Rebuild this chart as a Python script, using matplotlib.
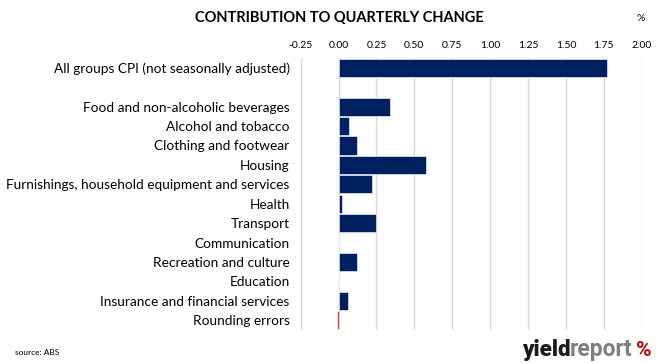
import matplotlib.pyplot as plt
import numpy as np

# contributions to quarterly CPI change (%)
categories = [
    "All groups CPI (not seasonally adjusted)",
    "",
    "Food and non-alcoholic beverages",
    "Alcohol and tobacco",
    "Clothing and footwear",
    "Housing",
    "Furnishings, household equipment and services",
    "Health",
    "Transport",
    "Communication",
    "Recreation and culture",
    "Education",
    "Insurance and financial services",
    "Rounding errors",
]
values = [1.77, np.nan, 0.34, 0.07, 0.12, 0.58, 0.22, 0.02, 0.25, 0.00, 0.12, 0.00, 0.06, -0.01]
xticks = [-0.25, 0.0, 0.25, 0.5, 0.75, 1.0, 1.25, 1.5, 1.75, 2.0]

navy = "#002060"
red = "#C0504D"

plt.rcParams['font.family'] = ['Lato', 'DejaVu Sans']

fig = plt.figure(figsize=(6.62, 3.63), dpi=100)
ax = fig.add_axes([0.4542, 0.091, 0.5151, 0.749])

y = np.arange(len(categories))
colors = [red if v < 0 else navy for v in values]
ax.barh(y, values, height=0.94, color=colors, edgecolor="white", linewidth=0.4, zorder=3)

ax.set_xlim(-0.25, 2.0)
ax.set_ylim(len(categories) - 0.5, -0.5)
ax.set_xticks(xticks)
ax.set_xticklabels([f"{t:.2f}" for t in xticks], fontsize=7.5)
ax.xaxis.tick_top()
ax.tick_params(axis="x", length=0, pad=6)
ax.set_yticks(y)
ax.set_yticklabels(categories, fontsize=9.8)
ax.tick_params(axis="y", length=0, pad=8)
ax.grid(axis="x", color="#D9D9D9", linewidth=1.0, zorder=0)
for s in ax.spines.values():
    s.set_visible(False)

fig.text(0.512, 0.95, "CONTRIBUTION TO QUARTERLY CHANGE", fontsize=10.5,
         fontweight="bold", ha="center", va="center")
fig.text(0.968, 0.95, "%", fontsize=7.5, ha="center", va="center")
fig.text(0.022, 0.03, "source: ABS", fontsize=6, ha="left", va="center")

# logo
t1 = fig.text(0.788, 0.02, "yield", fontsize=16, fontweight="heavy", color="#1a1a1a",
              ha="left", va="baseline", family="Roboto")
t2 = fig.text(0, 0, "report", fontsize=16.5, fontweight="bold", color="#7f7f7f",
              ha="left", va="baseline", family="Roboto")
t3 = fig.text(0, 0, "%", fontsize=15, fontweight="bold", color="#C00000",
              ha="left", va="baseline", family="Roboto")
fig.canvas.draw()
r = fig.canvas.get_renderer()
bb = t1.get_window_extent(r)
t2.set_position((bb.x1 / fig.bbox.width, 0.02))
bb2 = t2.get_window_extent(r)
t3.set_position((bb2.x1 / fig.bbox.width + 0.005, 0.02))

fig.savefig("out.png", dpi=100)
